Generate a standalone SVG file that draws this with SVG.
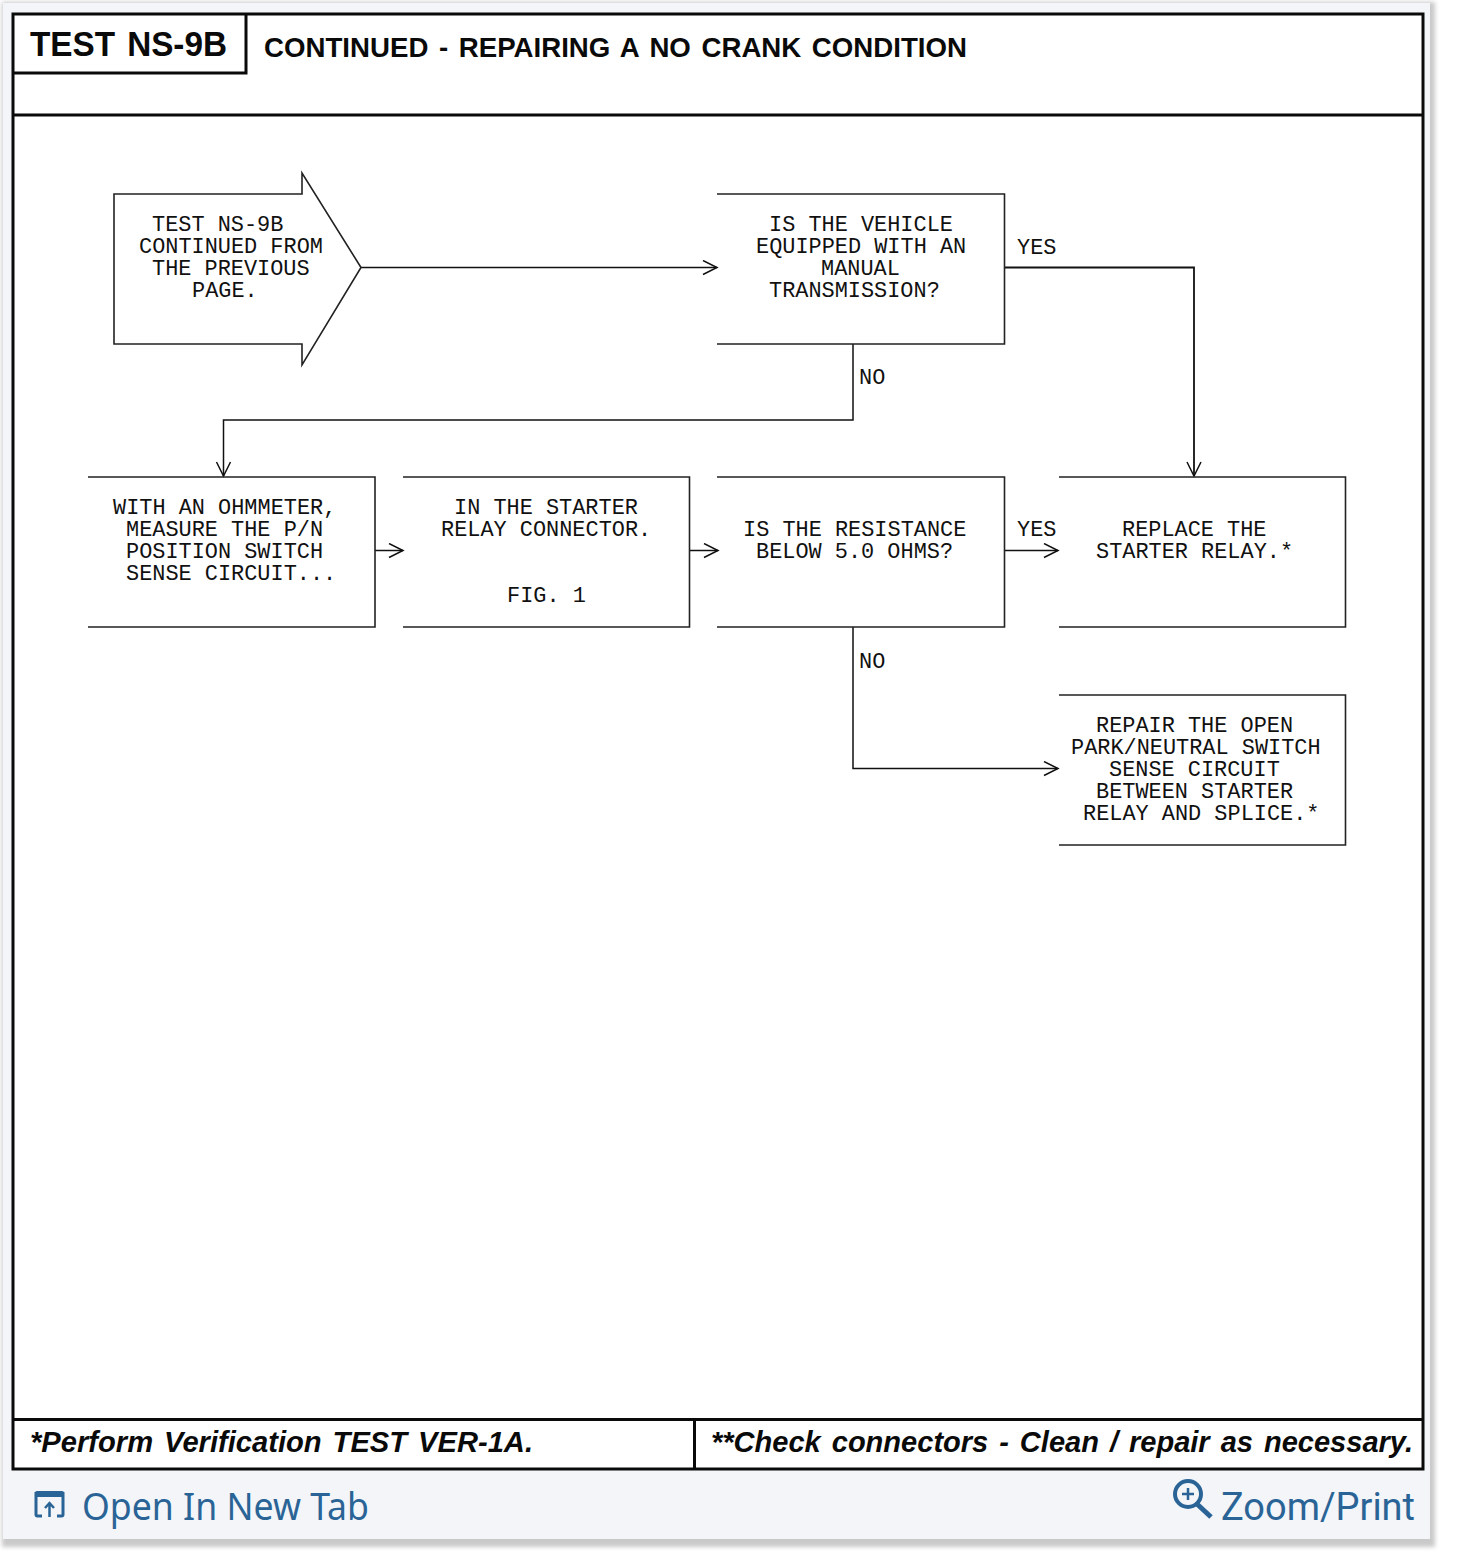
<svg xmlns="http://www.w3.org/2000/svg" width="1461" height="1563" viewBox="0 0 1461 1563">
<defs>
<marker id="arr" markerUnits="userSpaceOnUse" markerWidth="18" markerHeight="18" refX="15" refY="8" orient="auto"><path d="M1 1 L15 8 L1 15" fill="none" stroke="#111" stroke-width="1.5"/></marker>
<filter id="blur" x="-2%" y="-2%" width="104%" height="104%"><feGaussianBlur stdDeviation="2"/></filter>
</defs>
<style>
.frame{fill:none;stroke:#0a0a0a;stroke-width:3}
.box{fill:none;stroke:#222;stroke-width:1.6}
.conn{fill:none;stroke:#111;stroke-width:1.5}
.heavy{stroke-width:1.8}
.m{font-family:"Liberation Mono","Courier New",monospace;font-size:21.9px;fill:#111}
.h{font-family:"Liberation Sans",Arial,sans-serif;font-weight:700;fill:#0a0a0a;word-spacing:3px}
.f{font-family:"Liberation Sans",Arial,sans-serif;font-weight:700;font-style:italic;font-size:30px;fill:#0a0a0a;word-spacing:3px}
.l{font-family:"Noto Sans","Open Sans",sans-serif;font-size:38px;fill:#2a6496}
.r{font-family:Roboto,"Noto Sans",sans-serif}
.ic{fill:none;stroke:#2a6496}
</style>
<rect width="1461" height="1563" fill="#fff"/>
<rect x="2" y="2" width="1433" height="1545" fill="#c9c9c9" filter="url(#blur)"/>
<rect x="3" y="3" width="1427" height="1536" fill="#f3f5f9"/>
<rect x="13" y="14" width="1410" height="1455" fill="#fff"/>
<g id="frame">
<rect class="frame" x="13" y="14" width="1410" height="1455"/>
<path class="frame" d="M13 73H246V14M13 115H1423M13 1419.500H1423M694.500 1419.500V1469"/>
</g>
<g id="header">
<text class="h" x="30" y="56" font-size="35" textLength="197" lengthAdjust="spacingAndGlyphs">TEST NS-9B</text>
<text class="h" x="264" y="57" font-size="28.500" textLength="703" lengthAdjust="spacingAndGlyphs">CONTINUED - REPAIRING A NO CRANK CONDITION</text>
</g>
<g id="connectors">
<path class="conn" d="M361 267.500H717" marker-end="url(#arr)"/>
<path class="conn heavy" d="M1004 267.500H1194V476" marker-end="url(#arr)"/>
<path class="conn" d="M853 344V420H223.500V476" marker-end="url(#arr)"/>
<path class="conn" d="M375 550.500H403" marker-end="url(#arr)"/>
<path class="conn" d="M689 550.500H718" marker-end="url(#arr)"/>
<path class="conn" d="M1004 550.500H1058" marker-end="url(#arr)"/>
<path class="conn" d="M853 627V768.500H1058" marker-end="url(#arr)"/>
</g>
<g id="connector-labels">
<text class="m" x="1017" y="254">YES</text>
<text class="m" x="859" y="384">NO</text>
<text class="m" x="1017" y="536">YES</text>
<text class="m" x="859" y="668">NO</text>
</g>
<g id="start">
<path class="box" d="M361 267.500L302 173V194H114V344H302V365Z"/>
<text class="m" x="152" y="231">TEST NS-9B</text>
<text class="m" x="139" y="253">CONTINUED FROM</text>
<text class="m" x="152" y="275">THE PREVIOUS</text>
<text class="m" x="192" y="297">PAGE.</text>
</g>
<g id="q-manual">
<path class="box" d="M717 194H1004.500V344H717"/>
<text class="m" x="769" y="231">IS THE VEHICLE</text>
<text class="m" x="756" y="253">EQUIPPED WITH AN</text>
<text class="m" x="821" y="275">MANUAL</text>
<text class="m" x="769" y="297">TRANSMISSION?</text>
</g>
<g id="measure">
<path class="box" d="M88 477H375V627H88"/>
<text class="m" x="113" y="514">WITH AN OHMMETER,</text>
<text class="m" x="126" y="536">MEASURE THE P/N</text>
<text class="m" x="126" y="558">POSITION SWITCH</text>
<text class="m" x="126" y="580">SENSE CIRCUIT...</text>
</g>
<g id="connector-box">
<path class="box" d="M403 477H689.500V627H403"/>
<text class="m" x="454" y="514">IN THE STARTER</text>
<text class="m" x="441" y="536">RELAY CONNECTOR.</text>
<text class="m" x="507" y="601.500">FIG. 1</text>
</g>
<g id="q-resistance">
<path class="box" d="M717 477H1004.500V627H717"/>
<text class="m" x="743" y="536">IS THE RESISTANCE</text>
<text class="m" x="756" y="558">BELOW 5.0 OHMS?</text>
</g>
<g id="replace">
<path class="box" d="M1059 477H1345.500V627H1059"/>
<text class="m" x="1122" y="536">REPLACE THE</text>
<text class="m" x="1096" y="558">STARTER RELAY.*</text>
</g>
<g id="repair">
<path class="box" d="M1059 695H1345.500V845H1059"/>
<text class="m" x="1096" y="732">REPAIR THE OPEN</text>
<text class="m" x="1071" y="754">PARK/NEUTRAL SWITCH</text>
<text class="m" x="1109" y="776">SENSE CIRCUIT</text>
<text class="m" x="1096" y="798">BETWEEN STARTER</text>
<text class="m" x="1083" y="820">RELAY AND SPLICE.*</text>
</g>
<g id="footer">
<text class="f" x="30" y="1452" textLength="503" lengthAdjust="spacingAndGlyphs">*Perform Verification TEST VER-1A.</text>
<text class="f" x="711" y="1452" textLength="702" lengthAdjust="spacingAndGlyphs">**Check connectors - Clean / repair as necessary.</text>
</g>
<g id="open-tab">
<path class="ic" stroke-width="3" d="M42 1516H37.500Q36 1516 36 1514.500V1493.500H63V1514.500Q63 1516 61.500 1516H57"/>
<rect x="35" y="1491" width="29" height="6" rx="2" fill="#2a6496"/>
<path class="ic" stroke-width="2.500" d="M49.500 1517V1503M45 1508L49.500 1503L54 1508"/>
<text class="l" x="82" y="1520" textLength="287" lengthAdjust="spacingAndGlyphs">Open In New Tab</text>
</g>
<g id="zoom-print">
<circle class="ic" stroke-width="4" cx="1188" cy="1494" r="13"/>
<path class="ic" stroke-width="5" d="M1197 1504L1211 1517"/>
<path class="ic" stroke-width="2.500" d="M1182 1494H1194M1188 1488V1500"/>
<text class="l r" x="1221" y="1520" textLength="194" lengthAdjust="spacingAndGlyphs">Zoom/Print</text>
</g>
</svg>
